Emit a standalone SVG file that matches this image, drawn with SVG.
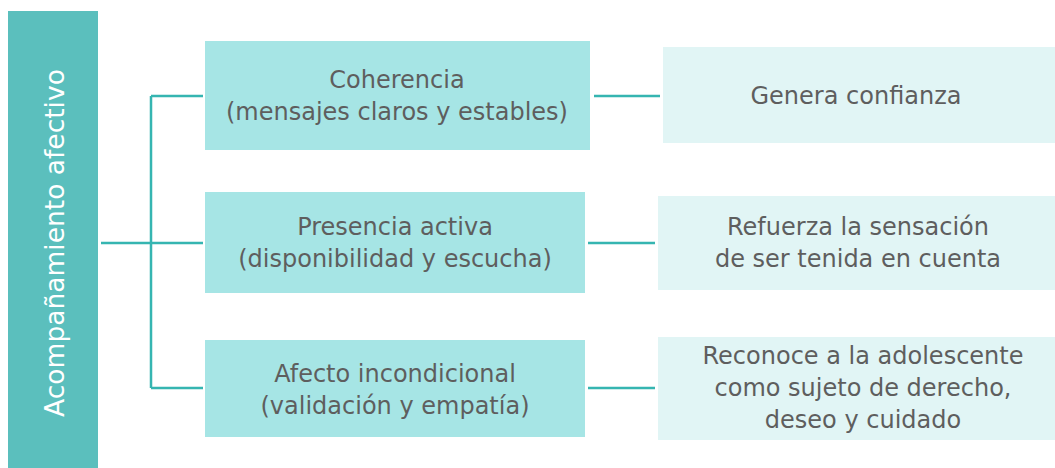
<svg xmlns="http://www.w3.org/2000/svg" width="1055" height="468" viewBox="0 0 1055 468">
<style>
.t{font-family:"DejaVu Sans","Liberation Sans",sans-serif;font-size:24px;fill:#5E5E5E;text-anchor:middle}
.mid{fill:#A6E5E5}
.res{fill:#E1F5F5}
.c{stroke:#35B5B1;stroke-width:2.5;fill:none}
</style>
<rect width="1055" height="468" fill="#fff"/>
<g id="root">
<rect x="8" y="11" width="90" height="457" fill="#5BBFBD"/>
<text transform="translate(64,243) rotate(-90)" style="font-family:'DejaVu Sans','Liberation Sans',sans-serif;font-size:26.5px;fill:#fff;text-anchor:middle">Acompañamiento afectivo</text>
</g>
<g id="connectors">
<path class="c" d="M101,243H203M151,96V388M151,96H203M151,388H203M594,96H660M588,243H655M588,388H655"/>
</g>
<g id="n1"><rect class="mid" x="205" y="41" width="385" height="109"/>
<text class="t" x="397" y="88">Coherencia</text><text class="t" x="397" y="120">(mensajes claros y estables)</text></g>
<g id="n2"><rect class="mid" x="205" y="192" width="380" height="101"/>
<text class="t" x="395" y="235">Presencia activa</text><text class="t" x="395" y="267">(disponibilidad y escucha)</text></g>
<g id="n3"><rect class="mid" x="205" y="340" width="380" height="97"/>
<text class="t" x="395" y="382">Afecto incondicional</text><text class="t" x="395" y="414">(validación y empatía)</text></g>
<g id="r1"><rect class="res" x="663" y="47" width="392" height="96"/>
<text class="t" x="856" y="104">Genera confianza</text></g>
<g id="r2"><rect class="res" x="658" y="196" width="397" height="94"/>
<text class="t" x="858" y="235">Refuerza la sensación</text><text class="t" x="858" y="267">de ser tenida en cuenta</text></g>
<g id="r3"><rect class="res" x="658" y="337" width="397" height="103"/>
<text class="t" x="863" y="364">Reconoce a la adolescente</text><text class="t" x="863" y="396">como sujeto de derecho,</text><text class="t" x="863" y="428">deseo y cuidado</text></g>
</svg>
